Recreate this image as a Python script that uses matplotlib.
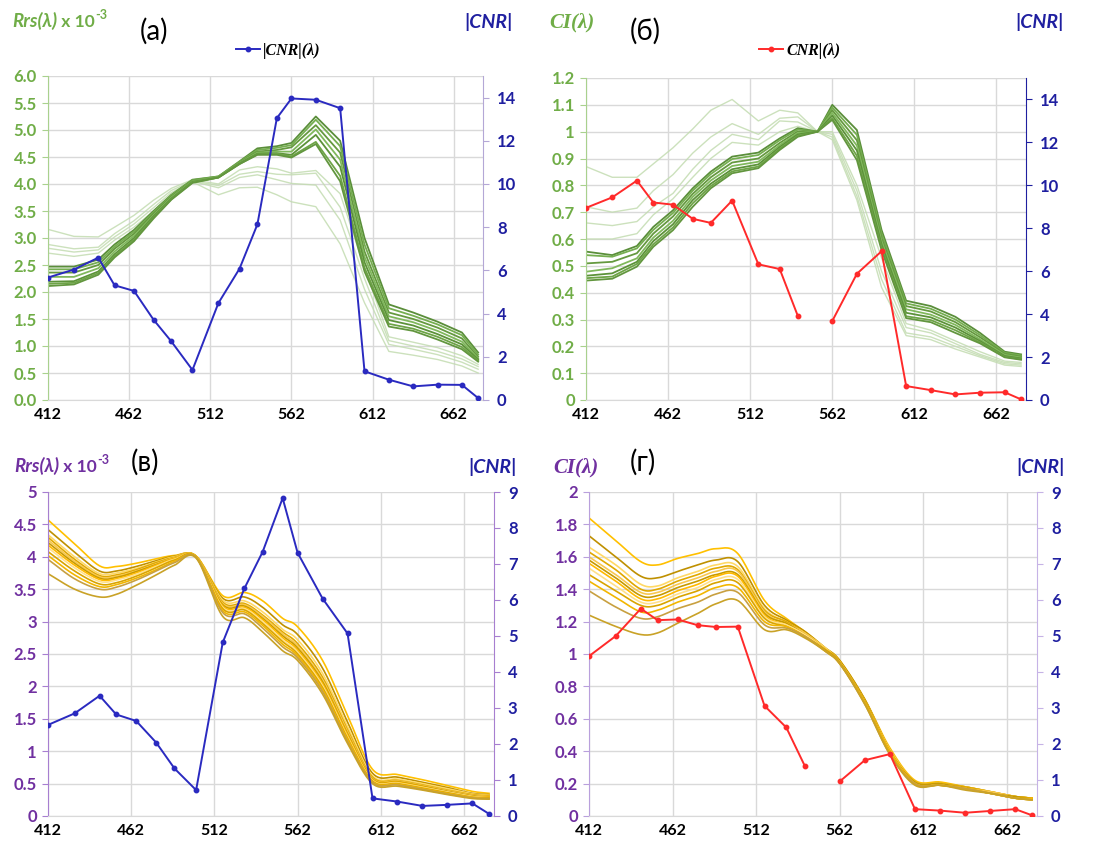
import numpy as np
import matplotlib.pyplot as plt
from matplotlib.lines import Line2D

plt.rcParams['font.family'] = ['Lato', 'DejaVu Sans']

# ---- data ----
wl = [412, 428, 443, 453, 465, 477, 488, 501, 517, 530, 541, 553, 562, 577, 592, 607, 622, 637, 652, 667, 677]
xticks = [412, 462, 512, 562, 612, 662]

# (a) |CNR| and Rrs x 1e-3
cnr_a = [5.67, 6.04, 6.59, 5.31, 5.05, 3.72, 2.71, 1.39, 4.49, 6.08, 8.13, 13.05,
         13.96, 13.90, 13.51, 1.33, 0.94, 0.63, 0.71, 0.70, 0.09]
rrs_a_dark = [
    [2.47, 2.47, 2.60, 2.88, 3.15, 3.50, 3.80, 4.08, 4.14, 4.42, 4.66, 4.70, 4.76, 5.25, 4.80, 3.00, 1.77, 1.62, 1.45, 1.25, 0.88],
    [2.42, 2.42, 2.55, 2.84, 3.12, 3.48, 3.79, 4.07, 4.14, 4.41, 4.63, 4.67, 4.72, 5.19, 4.70, 2.88, 1.70, 1.56, 1.40, 1.20, 0.84],
    [2.36, 2.36, 2.50, 2.80, 3.08, 3.45, 3.77, 4.06, 4.13, 4.40, 4.60, 4.63, 4.68, 5.09, 4.58, 2.75, 1.62, 1.50, 1.34, 1.14, 0.80],
    [2.28, 2.28, 2.44, 2.75, 3.04, 3.42, 3.75, 4.05, 4.13, 4.39, 4.58, 4.60, 4.60, 5.01, 4.45, 2.65, 1.55, 1.44, 1.28, 1.08, 0.77],
    [2.19, 2.20, 2.38, 2.70, 3.00, 3.40, 3.73, 4.04, 4.12, 4.38, 4.56, 4.57, 4.54, 4.91, 4.32, 2.55, 1.48, 1.38, 1.22, 1.03, 0.75],
    [2.15, 2.17, 2.35, 2.67, 2.97, 3.38, 3.72, 4.03, 4.12, 4.37, 4.55, 4.56, 4.51, 4.78, 4.15, 2.45, 1.41, 1.32, 1.17, 0.98, 0.73],
    [2.11, 2.14, 2.32, 2.64, 2.94, 3.36, 3.71, 4.02, 4.12, 4.37, 4.54, 4.54, 4.49, 4.74, 4.05, 2.38, 1.36, 1.28, 1.12, 0.94, 0.71],
]
rrs_a_light = [
    [3.16, 3.03, 3.02, 3.20, 3.42, 3.70, 3.92, 4.08, 4.00, 4.26, 4.32, 4.28, 4.20, 4.25, 3.82, 2.45, 1.17, 1.07, 0.97, 0.82, 0.66],
    [2.88, 2.80, 2.83, 3.08, 3.32, 3.62, 3.88, 4.06, 3.97, 4.18, 4.23, 4.18, 4.17, 4.20, 3.57, 2.25, 1.10, 1.00, 0.90, 0.76, 0.62],
    [2.81, 2.74, 2.78, 3.02, 3.26, 3.56, 3.84, 4.05, 3.93, 4.12, 4.17, 4.08, 4.01, 3.98, 3.33, 2.05, 1.03, 0.94, 0.84, 0.70, 0.57],
    [2.72, 2.66, 2.72, 2.96, 3.20, 3.50, 3.80, 4.04, 3.80, 3.93, 3.94, 3.80, 3.67, 3.58, 2.89, 1.80, 0.90, 0.83, 0.75, 0.63, 0.50],
]

# (б) CNR and CI
cnr_b = [8.95, 9.44, 10.22, 9.20, 9.10, 8.44, 8.25, 9.29, 6.32, 6.10, 3.92, np.nan,
         3.68, 5.88, 6.93, 0.65, 0.46, 0.26, 0.34, 0.36, 0.03]
ci_b_dark = [
    [0.553, 0.540, 0.574, 0.645, 0.707, 0.789, 0.851, 0.907, 0.922, 0.975, 1.013, 1.0, 1.100, 1.006, 0.634, 0.370, 0.350, 0.310, 0.250, 0.180, 0.170],
    [0.540, 0.534, 0.565, 0.634, 0.697, 0.780, 0.842, 0.898, 0.913, 0.968, 1.008, 1.0, 1.090, 0.988, 0.620, 0.360, 0.340, 0.300, 0.242, 0.176, 0.166],
    [0.509, 0.515, 0.547, 0.620, 0.684, 0.768, 0.830, 0.885, 0.900, 0.958, 1.001, 1.0, 1.080, 0.968, 0.605, 0.350, 0.330, 0.290, 0.234, 0.172, 0.162],
    [0.478, 0.491, 0.528, 0.605, 0.668, 0.757, 0.818, 0.872, 0.888, 0.950, 0.995, 1.0, 1.070, 0.948, 0.592, 0.338, 0.318, 0.280, 0.226, 0.168, 0.158],
    [0.463, 0.472, 0.515, 0.592, 0.655, 0.745, 0.806, 0.860, 0.878, 0.943, 0.990, 1.0, 1.060, 0.930, 0.580, 0.325, 0.308, 0.270, 0.220, 0.164, 0.155],
    [0.454, 0.460, 0.507, 0.580, 0.643, 0.733, 0.797, 0.852, 0.870, 0.937, 0.985, 1.0, 1.050, 0.910, 0.568, 0.312, 0.298, 0.260, 0.215, 0.161, 0.152],
    [0.445, 0.452, 0.497, 0.571, 0.633, 0.720, 0.789, 0.845, 0.864, 0.932, 0.981, 1.0, 1.044, 0.894, 0.559, 0.305, 0.290, 0.250, 0.211, 0.159, 0.150],
]
ci_b_light = [
    [0.87, 0.83, 0.83, 0.88, 0.94, 1.01, 1.08, 1.12, 1.04, 1.08, 1.07, 1.0, 1.00, 0.80, 0.53, 0.285, 0.26, 0.22, 0.18, 0.145, 0.14],
    [0.72, 0.70, 0.715, 0.78, 0.84, 0.92, 0.98, 1.03, 0.99, 1.05, 1.055, 1.0, 0.99, 0.78, 0.48, 0.27, 0.25, 0.21, 0.17, 0.14, 0.135],
    [0.66, 0.65, 0.665, 0.72, 0.77, 0.86, 0.93, 0.99, 0.97, 1.04, 1.036, 1.0, 0.98, 0.76, 0.45, 0.25, 0.235, 0.20, 0.165, 0.135, 0.13],
    [0.60, 0.60, 0.62, 0.69, 0.75, 0.83, 0.90, 0.96, 0.95, 1.00, 1.02, 1.0, 0.97, 0.745, 0.42, 0.24, 0.225, 0.19, 0.16, 0.13, 0.125],
]

# (в) |CNR| and Rrs x 1e-3, rows = wavelengths, columns = spectra
cnr_c = [2.53, 2.85, 3.34, 2.82, 2.64, 2.04, 1.32, 0.72, 4.82, 6.32, 7.34, 8.83,
         7.31, 6.04, 5.07, 0.49, 0.40, 0.28, 0.31, 0.35, 0.06]
rrs_c_rows = [
    [4.57, 4.42, 4.34, 4.30, 4.26, 4.22, 4.18, 4.14, 4.08, 4.02, 3.96, 3.74],
    [4.20, 4.07, 4.00, 3.96, 3.93, 3.90, 3.87, 3.83, 3.78, 3.72, 3.66, 3.50],
    [3.86, 3.78, 3.74, 3.71, 3.69, 3.67, 3.65, 3.62, 3.58, 3.54, 3.50, 3.38],
    [3.85, 3.78, 3.75, 3.72, 3.70, 3.68, 3.66, 3.64, 3.60, 3.57, 3.53, 3.42],
    [3.90, 3.85, 3.82, 3.80, 3.78, 3.77, 3.75, 3.73, 3.70, 3.67, 3.64, 3.56],
    [3.97, 3.94, 3.92, 3.91, 3.89, 3.88, 3.87, 3.85, 3.83, 3.80, 3.78, 3.72],
    [4.02, 4.01, 4.00, 3.99, 3.98, 3.97, 3.97, 3.96, 3.95, 3.93, 3.91, 3.87],
    [4.01, 4.01, 4.01, 4.01, 4.00, 4.00, 4.00, 4.00, 4.00, 3.99, 3.99, 3.98],
    [3.40, 3.36, 3.33, 3.30, 3.28, 3.26, 3.24, 3.22, 3.20, 3.17, 3.14, 3.08],
    [3.45, 3.38, 3.32, 3.28, 3.26, 3.24, 3.22, 3.20, 3.18, 3.15, 3.12, 3.06],
    [3.32, 3.22, 3.15, 3.10, 3.08, 3.05, 3.03, 3.00, 2.97, 2.94, 2.90, 2.84],
    [3.05, 2.95, 2.88, 2.84, 2.81, 2.78, 2.75, 2.72, 2.69, 2.65, 2.61, 2.55],
    [2.92, 2.80, 2.72, 2.66, 2.62, 2.59, 2.56, 2.53, 2.50, 2.47, 2.44, 2.40],
    [2.40, 2.28, 2.20, 2.14, 2.10, 2.07, 2.04, 2.01, 1.98, 1.95, 1.92, 1.88],
    [1.55, 1.45, 1.38, 1.33, 1.30, 1.27, 1.25, 1.22, 1.20, 1.18, 1.15, 1.12],
    [0.72, 0.66, 0.62, 0.60, 0.58, 0.57, 0.56, 0.55, 0.54, 0.53, 0.52, 0.50],
    [0.64, 0.60, 0.57, 0.55, 0.54, 0.53, 0.52, 0.51, 0.50, 0.49, 0.48, 0.46],
    [0.56, 0.52, 0.50, 0.48, 0.47, 0.46, 0.45, 0.44, 0.43, 0.42, 0.41, 0.40],
    [0.47, 0.44, 0.42, 0.40, 0.39, 0.38, 0.37, 0.37, 0.36, 0.35, 0.34, 0.33],
    [0.38, 0.35, 0.34, 0.33, 0.32, 0.31, 0.30, 0.30, 0.29, 0.29, 0.28, 0.27],
    [0.35, 0.33, 0.32, 0.31, 0.30, 0.29, 0.29, 0.28, 0.28, 0.27, 0.27, 0.26],
]

# (г) CNR and CI
cnr_d = [4.44, 5.00, 5.76, 5.44, 5.46, 5.30, 5.25, 5.26, 3.06, 2.46, 1.40, np.nan,
         0.96, 1.55, 1.72, 0.19, 0.15, 0.09, 0.14, 0.19, 0.02]
ci_d_rows = [
    [1.84, 1.73, 1.66, 1.63, 1.60, 1.58, 1.56, 1.53, 1.49, 1.45, 1.39, 1.24],
    [1.70, 1.60, 1.55, 1.52, 1.49, 1.47, 1.45, 1.42, 1.39, 1.35, 1.29, 1.17],
    [1.57, 1.48, 1.43, 1.40, 1.38, 1.36, 1.34, 1.32, 1.30, 1.26, 1.22, 1.12],
    [1.55, 1.47, 1.42, 1.40, 1.38, 1.36, 1.34, 1.32, 1.30, 1.27, 1.23, 1.13],
    [1.59, 1.51, 1.47, 1.45, 1.43, 1.41, 1.39, 1.37, 1.35, 1.32, 1.28, 1.19],
    [1.62, 1.55, 1.51, 1.49, 1.47, 1.45, 1.43, 1.41, 1.39, 1.36, 1.32, 1.25],
    [1.65, 1.58, 1.55, 1.53, 1.51, 1.49, 1.48, 1.46, 1.44, 1.41, 1.37, 1.31],
    [1.62, 1.57, 1.54, 1.52, 1.51, 1.49, 1.48, 1.46, 1.44, 1.41, 1.38, 1.33],
    [1.33, 1.30, 1.28, 1.27, 1.26, 1.25, 1.24, 1.23, 1.22, 1.20, 1.18, 1.15],
    [1.22, 1.21, 1.20, 1.20, 1.19, 1.19, 1.18, 1.18, 1.17, 1.17, 1.16, 1.15],
    [1.14, 1.14, 1.13, 1.13, 1.13, 1.12, 1.12, 1.12, 1.11, 1.11, 1.11, 1.10],
    [1.04, 1.04, 1.04, 1.03, 1.03, 1.03, 1.03, 1.03, 1.03, 1.02, 1.02, 1.02],
    [0.96, 0.96, 0.95, 0.95, 0.95, 0.95, 0.95, 0.95, 0.95, 0.94, 0.94, 0.94],
    [0.72, 0.72, 0.71, 0.71, 0.71, 0.71, 0.70, 0.70, 0.70, 0.70, 0.69, 0.69],
    [0.42, 0.41, 0.41, 0.40, 0.40, 0.40, 0.40, 0.39, 0.39, 0.39, 0.38, 0.38],
    [0.22, 0.21, 0.21, 0.21, 0.21, 0.21, 0.20, 0.20, 0.20, 0.20, 0.20, 0.19],
    [0.21, 0.20, 0.20, 0.20, 0.20, 0.20, 0.19, 0.19, 0.19, 0.19, 0.19, 0.19],
    [0.18, 0.18, 0.18, 0.18, 0.17, 0.17, 0.17, 0.17, 0.17, 0.17, 0.17, 0.16],
    [0.15, 0.15, 0.15, 0.15, 0.15, 0.14, 0.14, 0.14, 0.14, 0.14, 0.14, 0.14],
    [0.12, 0.12, 0.12, 0.12, 0.12, 0.12, 0.11, 0.11, 0.11, 0.11, 0.11, 0.11],
    [0.11, 0.11, 0.11, 0.11, 0.11, 0.11, 0.11, 0.10, 0.10, 0.10, 0.10, 0.10],
]

# ---- styles ----
GREEN = '#70AD47'
PURPLE = '#7030A0'
BLUE = '#1F1FA0'
CNR_BLUE = '#2A2AC0'
RED = '#FF2A2A'
GRID = '#D9D9D9'
dark_greens = ['#5A8E3A', '#75AE50', '#65993F', '#80B85C', '#5C9239', '#6EA447', '#62963E']
light_green = '#C3DCB1'
golds = ['#FFC000', '#BF9000', '#FFD966', '#E0A800', '#F8C850', '#C79A00',
         '#FFB900', '#FFE08A', '#D9A400', '#F2B600', '#C8A040', '#C9A227']

W, H = 1096, 848


def fx(x):
    return x / W


def fy(y):
    return 1 - y / H


def smooth(x, y, n=16):
    ##catmull-rom like excel's smoothed line
    x = np.asarray(x, float)
    y = np.asarray(y, float)
    t = np.linspace(0, 1, n, endpoint=False)[:, None]
    res = []
    for p in (x, y):
        q = np.r_[2 * p[0] - p[1], p, 2 * p[-1] - p[-2]]
        p0, p1, p2, p3 = q[:-3], q[1:-2], q[2:-1], q[3:]
        seg = 0.5 * (2 * p1 + (-p0 + p2) * t + (2 * p0 - 5 * p1 + 4 * p2 - p3) * t ** 2
                     + (-p0 + 3 * p1 - 3 * p2 + p3) * t ** 3)
        res.append(np.r_[seg.T.ravel(), p[-1]])
    return res


def gen_fmt(v):
    return f'{round(v, 2):g}'


def setup(ax, ax2, ylim, yticks, yfmt, lcol, lspine, rlim, rticks, rspine):
    ax.set_xlim(412, 680)
    ax.set_ylim(*ylim)
    ax.set_xticks(xticks)
    ax.set_xticklabels([str(v) for v in xticks], fontweight='bold', fontsize=11.5)
    ax.set_yticks(yticks)
    ax.set_yticklabels([yfmt(v) for v in yticks], fontweight='bold', fontsize=12)
    ax.grid(True, color=GRID, lw=1.0)
    ax.set_axisbelow(True)
    ax.spines['top'].set_visible(False)
    ax.spines['right'].set_visible(False)
    ax.spines['bottom'].set_color(GRID)
    ax.spines['left'].set_color(lspine)
    ax.tick_params(axis='x', length=0, pad=6)
    ax.tick_params(axis='y', color=lspine, labelcolor=lcol, length=4, pad=4)
    ax2.set_ylim(*rlim)
    ax2.set_yticks(rticks)
    ax2.set_yticklabels([str(v) for v in rticks], fontweight='bold', fontsize=12)
    for s in ('top', 'left', 'bottom'):
        ax2.spines[s].set_visible(False)
    ax2.spines['right'].set_color(rspine)
    ax2.tick_params(axis='y', color=rspine, labelcolor=BLUE, length=4, pad=6)


def rrs_label(x, y, col):
    t1 = fig.text(fx(x), fy(y), 'Rrs(λ)', color=col, fontsize=13.5, fontweight='bold',
                  style='italic', va='baseline')
    a = ax_a.annotate(' x 10', xy=(1, 0), xycoords=t1, va='bottom', ha='left', color=col,
                      fontsize=12.5, fontweight='bold', annotation_clip=False)
    ax_a.annotate('-3', xy=(1, 0.55), xycoords=a, va='bottom', ha='left', color=col,
                  fontsize=9, fontweight='bold', annotation_clip=False)


def ci_label(x, y, col):
    fig.text(fx(x), fy(y), 'CI(λ)', color=col, fontsize=15, fontweight='bold',
             style='italic', va='baseline', family=['Liberation Serif', 'DejaVu Serif'])


def cnr_label(x, y):
    fig.text(fx(x), fy(y), '|CNR|', color=BLUE, fontsize=14, fontweight='bold',
             style='italic', va='baseline')


def panel_letter(x, y, s):
    fig.text(fx(x), fy(y), s, color='black', fontsize=20, ha='center', va='center')


fig = plt.figure(figsize=(W / 100, H / 100), dpi=100)

ax_a = fig.add_axes([fx(48), fy(400), (483 - 48) / W, (400 - 76) / H])
ax_b = fig.add_axes([fx(586), fy(400), (1026 - 586) / W, (400 - 78) / H])
ax_c = fig.add_axes([fx(48), fy(816), (494 - 48) / W, (816 - 492) / H])
ax_d = fig.add_axes([fx(589), fy(816), (1037 - 589) / W, (816 - 492) / H])
ax_a2 = ax_a.twinx()
ax_b2 = ax_b.twinx()
ax_c2 = ax_c.twinx()
ax_d2 = ax_d.twinx()

##(a)
for y in rrs_a_light:
    ax_a.plot(wl, y, color=light_green, lw=1.0, alpha=0.85)
for y, c in zip(rrs_a_dark, dark_greens):
    ax_a.plot(wl, y, color=c, lw=1.3)
ax_a2.plot(wl, cnr_a, color=CNR_BLUE, lw=1.4, marker='o', ms=3.2)
setup(ax_a, ax_a2, (0, 6), np.arange(0, 6.01, 0.5), lambda v: f'{v:.1f}', GREEN, '#A9D18E',
      (0, 15), list(range(0, 15, 2)), '#B4A7D6')

##(б)
for y in ci_b_light:
    ax_b.plot(wl, y, color=light_green, lw=1.0, alpha=0.85)
for y, c in zip(ci_b_dark, dark_greens):
    ax_b.plot(wl, y, color=c, lw=1.3)
ax_b2.plot(wl, cnr_b, color=RED, lw=1.4, marker='o', ms=3.2)
setup(ax_b, ax_b2, (0, 1.2), np.arange(0, 1.201, 0.1), gen_fmt, GREEN, '#A9D18E',
      (0, 15), list(range(0, 15, 2)), '#1F1F9F')

##(в)
rrs_c = np.array(rrs_c_rows).T
for y, c in zip(rrs_c, golds):
    sx, sy = smooth(wl, y)
    ax_c.plot(sx, sy, color=c, lw=1.2)
ax_c2.plot(wl, cnr_c, color=CNR_BLUE, lw=1.4, marker='o', ms=3.2)
setup(ax_c, ax_c2, (0, 5), np.arange(0, 5.01, 0.5), gen_fmt, PURPLE, '#A77FD0',
      (0, 9), list(range(0, 10)), '#A77FD0')

##(г)
ci_d = np.array(ci_d_rows).T
for y, c in zip(ci_d, golds):
    sx, sy = smooth(wl, y)
    ax_d.plot(sx, sy, color=c, lw=1.2)
ax_d2.plot(wl, cnr_d, color=RED, lw=1.4, marker='o', ms=3.2)
setup(ax_d, ax_d2, (0, 2), np.arange(0, 2.01, 0.2), gen_fmt, PURPLE, '#B9A0DC',
      (0, 9), list(range(0, 10)), '#C6B3E6')

##titles / axis labels
rrs_label(12, 27, GREEN)
panel_letter(154, 31, '(а)')
cnr_label(464, 28)
ci_label(549, 27, GREEN)
panel_letter(645, 31, '(б)')
cnr_label(1015, 28)
rrs_label(14, 472, PURPLE)
panel_letter(145, 462, '(в)')
cnr_label(468, 473)
ci_label(553, 472, PURPLE)
panel_letter(643, 462, '(г)')
cnr_label(1016, 473)

leg_font = dict(family=['Liberation Serif', 'DejaVu Serif'], style='italic', weight='bold', size=11.5)
ax_a.legend(handles=[Line2D([], [], color=CNR_BLUE, lw=1.4, marker='o', ms=3.2)],
            labels=['|CNR|(λ)'], loc='center', bbox_to_anchor=(fx(278), fy(51)),
            bbox_transform=fig.transFigure, frameon=False, prop=leg_font,
            handlelength=1.5, handletextpad=0.2)
ax_b.legend(handles=[Line2D([], [], color=RED, lw=1.4, marker='o', ms=3.2)],
            labels=['CNR|(λ)'], loc='center', bbox_to_anchor=(fx(800), fy(51)),
            bbox_transform=fig.transFigure, frameon=False, prop=leg_font,
            handlelength=1.5, handletextpad=0.2)

fig.savefig('out.png', dpi=100)
